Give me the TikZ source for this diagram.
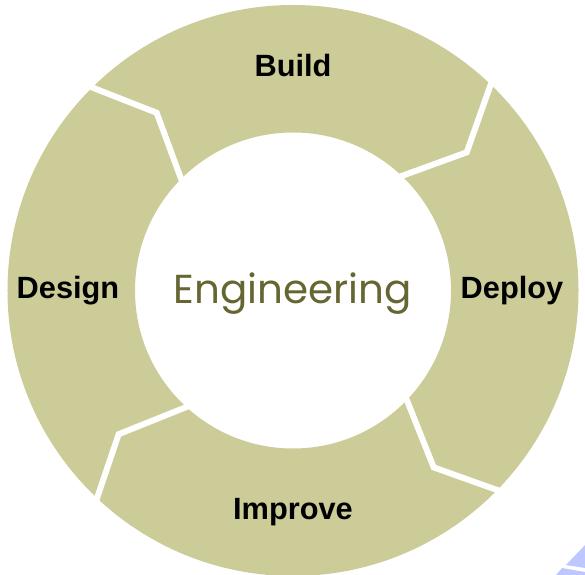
\documentclass[tikz,border=0pt]{standalone}
\usepackage{fontspec}
\setmainfont{Liberation Sans}
\newfontfamily\hubfont{Poppins}
\usepackage{xcolor}
\definecolor{ringfill}{RGB}{204,204,153}
\definecolor{hubtext}{RGB}{102,102,51}
\definecolor{cornerblue}{RGB}{190,200,255}
\tikzset{
    stage/.style={font=\bfseries\fontsize{17.5}{20}\selectfont, inner sep=0pt, anchor=base},
    gap/.style={draw=white, line width=3.4pt, line join=miter},
}

\begin{document}
\begin{tikzpicture}
    \useasboundingbox (-5.86, -5.69) rectangle (5.84, 5.81);

    % the ring
    \fill[ringfill, even odd rule] (0, 0) circle (5.71) (0, 0) circle (3.16);

    % chevron cuts between the stages
    \draw[gap] (47:5.9) -- (38.5:4.44) -- (48:3.0);
    \draw[gap] (135.5:5.9) -- (127.5:4.48) -- (136.5:3.0);
    \draw[gap] (227.5:5.9) -- (219.5:4.52) -- (229:3.0);
    \draw[gap] (316.5:5.9) -- (308.5:4.52) -- (317.5:3.0);

    % corner shape, bottom right
    \fill[cornerblue] (5.84, -5.09) -- (5.46, -5.49) -- (5.84, -5.55) -- cycle;
    \fill[cornerblue] (5.26, -5.69) -- (5.38, -5.55) -- (5.84, -5.63) -- (5.84, -5.69) -- cycle;

    \node[stage] (build) at (0, 4.27) {Build};
    \node[stage] (deploy) at (4.38, -0.17) {Deploy};
    \node[stage] (improve) at (0, -4.57) {Improve};
    \node[stage] (design) at (-4.5, -0.17) {Design};

    \node[font=\hubfont\fontsize{23}{26}\selectfont, text=hubtext, inner sep=0pt, anchor=base] (hub) at (0, -0.27) {Engineering};
\end{tikzpicture}
\end{document}
